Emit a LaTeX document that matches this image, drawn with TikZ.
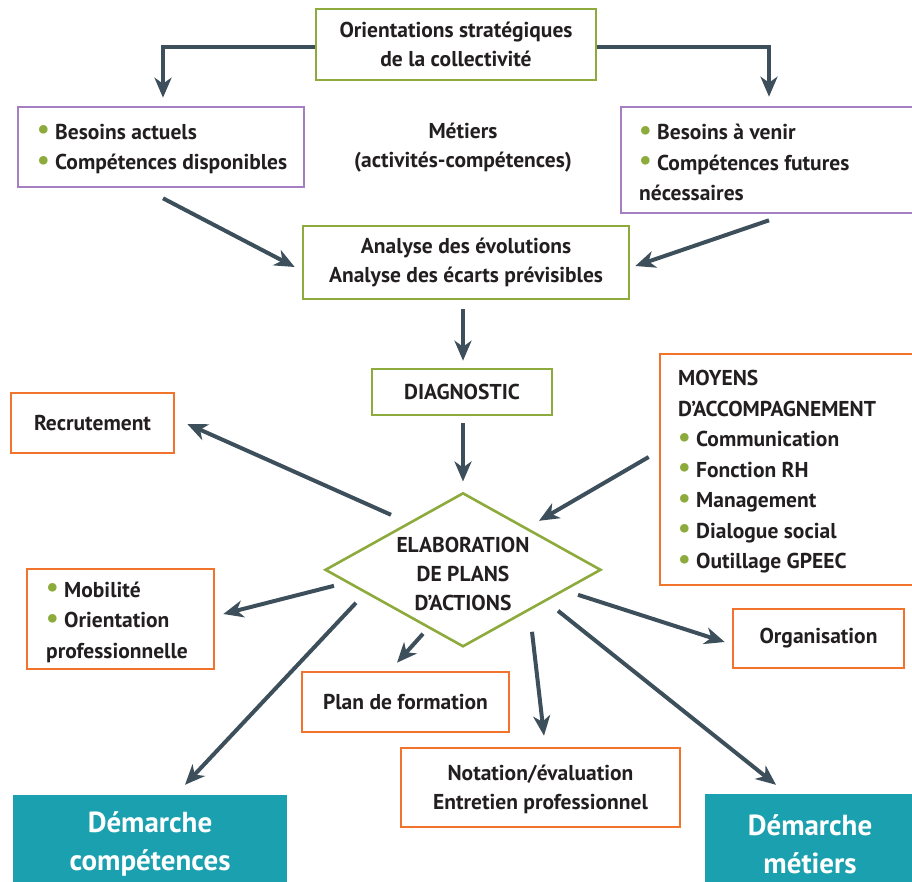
\documentclass[tikz,border=0pt]{standalone}
\usepackage{fontspec}
\setmainfont{PT Sans}
\usetikzlibrary{arrows.meta,calc,shapes.geometric}
\definecolor{arrowc}{HTML}{3C4F5B}
\definecolor{greenc}{HTML}{8DAA3C}
\definecolor{purplec}{HTML}{A47FC2}
\definecolor{orangec}{HTML}{F2742C}
\definecolor{tealc}{HTML}{1AA0AE}
\definecolor{textc}{HTML}{231F20}
\newcommand{\bul}{{\color{greenc}\raisebox{0.05ex}{\scalebox{1.3}{•}}}\hspace{0.25em}}
\begin{document}
\begin{tikzpicture}[x=1pt,y=-1pt,
  txt/.style={inner sep=0pt, text=textc, font=\bfseries\fontsize{21.5}{29}\selectfont, align=center},
  ltxt/.style={inner sep=0pt, text=textc, font=\bfseries\fontsize{21.5}{30.5}\selectfont, align=left, anchor=west},
  box/.style={txt, draw, line width=2.6pt},
  gbox/.style={box, draw=greenc},
  pbox/.style={box, draw=purplec},
  obox/.style={box, draw=orangec},
  tbox/.style={inner sep=0pt, fill=tealc, text=white, align=center, font=\bfseries\fontsize{29}{38}\selectfont},
  arr/.style={draw=arrowc, line width=4pt, -{Stealth[length=20pt,width=17pt,inset=6pt]}}
]
\useasboundingbox (0,0) rectangle (912,882);

% boxes
\node[gbox, minimum width=280, minimum height=71] (top) at (456,44.5) {Orientations stratégiques\\de la collectivité};
\node[pbox, minimum width=286, minimum height=80] (lp) at (161,147) {};
\node[ltxt] (lpt) at (37,149) {\bul Besoins actuels\\\bul Compétences disponibles};
\node[pbox, minimum width=296, minimum height=106] (rp) at (769,160) {};
\node[ltxt] (rpt) at (639,162.5) {\bul Besoins à venir\\\bul Compétences futures\\nécessaires};
\node[txt] (met) at (463,148) {Métiers\\(activités-compétences)};
\node[gbox, minimum width=326, minimum height=73] (ana) at (466,262.5) {Analyse des évolutions\\Analyse des écarts prévisibles};
\node[gbox, minimum width=180, minimum height=46] (diag) at (462,392) {DIAGNOSTIC};
\node[obox, minimum width=163, minimum height=60] (recr) at (92.5,423) {Recrutement};
\node[obox, minimum width=270, minimum height=231] (moy) at (795,469.5) {};
\node[ltxt] (moyt) at (678,472) {MOYENS\\D'ACCOMPAGNEMENT\\\bul Communication\\\bul Fonction RH\\\bul Management\\\bul Dialogue social\\\bul Outillage GPEEC};
\node[diamond, draw=greenc, line width=2.6pt, inner sep=0pt, minimum width=276, minimum height=154] (diam) at (463,569.8) {};
\node[txt] (diamt) at (463,574) {ELABORATION\\DE PLANS\\D'ACTIONS};
\node[obox, minimum width=187, minimum height=100] (mob) at (120.5,619) {};
\node[ltxt] (mobt) at (46,622) {\bul Mobilité\\\bul Orientation\\professionnelle};
\node[obox, minimum width=171, minimum height=59] (org) at (818.5,638.5) {Organisation};
\node[obox, minimum width=207, minimum height=60] (plan) at (405.5,702) {Plan de formation};
\node[obox, minimum width=279, minimum height=79] (nota) at (540.5,787.5) {};
\node[txt] (notat) at (540.5,789) {Notation/évaluation\\Entretien professionnel};
\node[tbox, minimum width=274, minimum height=105] (dc) at (150,847.5) {};
\node[tbox] (dct) at (150,844) {Démarche\\compétences};
\node[tbox, minimum width=214, minimum height=106] (dm) at (812,847) {};
\node[tbox] (dmt) at (810,844) {Démarche\\métiers};

% connectors
\draw[arr] ($(top.west)+(0,2.5)$) -| ($(lp.north)+(2,-8)$);
\draw[arr] ($(top.east)+(0,2.5)$) -| ($(rp.north)+(0,-9)$);
\draw[arr] ($(lp.south)+(2,10)$) -- ($(ana.west)+(-7,4.5)$);
\draw[arr] ($(rp.south)+(0,6)$) -- ($(ana.east)+(5,3.5)$);
\draw[arr] ($(ana.south)+(-3,9)$) -- ($(diag.north)+(1,-7)$);
\draw[arr] ($(diag.south)+(1,7)$) -- ($(diam.north)+(0,-10)$);
\draw[arr] ($(diam)+(-72,-55)$) -- ($(recr.east)+(12,1)$);
\draw[arr] ($(moy.west)+(-10,-12.5)$) -- ($(diam)+(76,-49)$);
\draw[arr] ($(diam)+(-129,16)$) -- ($(mob.east)+(8,-5)$);
\draw[arr] ($(diam)+(-107,33)$) -- ($(dc.north)+(35,-10)$);
\draw[arr] ($(diam)+(-40,64)$) -- ($(plan.north)+(-8.5,-8)$);
\draw[arr] ($(diam)+(69,62)$) -- ($(nota.north)+(3.5,-11)$);
\draw[arr] ($(diam)+(95,41)$) -- ($(dm.north)+(-36,-9)$);
\draw[arr] ($(diam)+(115,25)$) -- ($(org.west)+(-7,3.5)$);
\end{tikzpicture}
\end{document}
